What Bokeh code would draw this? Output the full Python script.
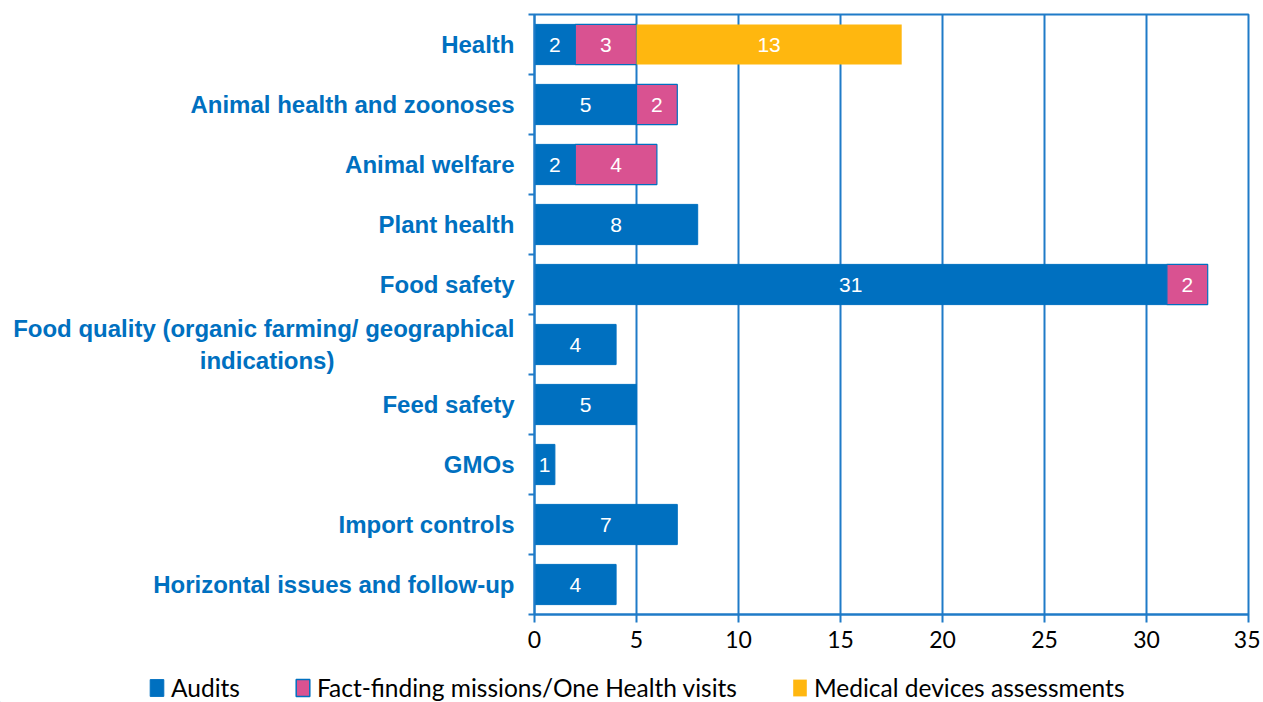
from bokeh.plotting import figure
from bokeh.layouts import column, row
from bokeh.models import (Range1d, FixedTicker, Legend, LegendItem, ColumnDataSource)
from bokeh.core.properties import value
from bokeh.embed import file_html
from bokeh.resources import INLINE

NB = "\u00a0"
categories = [
    "Health",
    "Animal health and zoonoses",
    "Animal welfare",
    "Plant health",
    "Food safety",
    "Food quality (organic farming/ geographical\nindications)" + NB * 27,
    "Feed safety",
    "GMOs",
    "Import controls",
    "Horizontal issues and follow-up",
]
audits = [2, 5, 2, 8, 31, 4, 5, 1, 7, 4]
fact_finding = [3, 2, 4, 0, 2, 0, 0, 0, 0, 0]
medical = [13, 0, 0, 0, 0, 0, 0, 0, 0, 0]
x_ticks = [0, 5, 10, 15, 20, 25, 30, 35]
series_names = ["Audits", "Fact-finding missions/One Health visits", "Medical devices assessments"]

BLUE = "#0070C0"
PINK = "#D95291"
YELLOW = "#FFB70F"
AXIS_BLUE = "#1F7BC8"

n = len(categories)
ys = list(range(n))

p = figure(width=1260, height=667, output_backend="svg", toolbar_location=None,
           x_range=Range1d(0, 35), y_range=Range1d(n - 0.5, -0.5),
           min_border_left=534, min_border_top=14, min_border_right=12, min_border_bottom=53)
p.background_fill_color = "white"
p.border_fill_color = "white"
p.outline_line_color = AXIS_BLUE
p.outline_line_width = 2

a_left = [0] * n
a_right = audits
f_left = audits
f_right = [a + f for a, f in zip(audits, fact_finding)]
m_left = f_right
m_right = [r + m for r, m in zip(f_right, medical)]

src = ColumnDataSource(dict(y=ys, a_left=a_left, a_right=a_right, f_left=f_left,
                            f_right=f_right, m_left=m_left, m_right=m_right,
                            f_line=[BLUE if v > 0 else None for v in fact_finding]))
H = 0.67
p.hbar(y="y", left="a_left", right="a_right", height=H, source=src,
       fill_color=BLUE, line_color=BLUE, line_width=1)
p.hbar(y="y", left="f_left", right="f_right", height=H, source=src,
       fill_color=PINK, line_color="f_line", line_width=1.2)
p.hbar(y="y", left="m_left", right="m_right", height=H, source=src,
       fill_color=YELLOW, line_color=None)

# value labels
lx, ly, lt = [], [], []
for i in range(n):
    for left, val in ((a_left[i], audits[i]), (f_left[i], fact_finding[i]), (m_left[i], medical[i])):
        if val > 0:
            lx.append(left + val / 2)
            ly.append(i)
            lt.append(str(val))
p.text(x=lx, y=ly, text=lt, text_color="white", text_align="center", text_baseline="middle",
       text_font=value("Liberation Sans"), text_font_size="21px")

# x axis
xa = p.xaxis[0]
xa.ticker = FixedTicker(ticks=x_ticks)
xa.axis_line_color = AXIS_BLUE
xa.axis_line_width = 2
xa.major_tick_line_color = AXIS_BLUE
xa.major_tick_line_width = 2
xa.major_tick_in = 0
xa.major_tick_out = 8
xa.minor_tick_line_color = None
xa.major_label_text_font = "Lato"
xa.major_label_text_font_size = "23px"
xa.major_label_text_color = "black"
xa.major_label_standoff = 8

# y axis
ya = p.yaxis[0]
ya.ticker = FixedTicker(ticks=ys, minor_ticks=[i - 0.5 for i in range(n + 1)])
ya.major_label_overrides = {i: c for i, c in enumerate(categories)}
ya.axis_line_color = AXIS_BLUE
ya.axis_line_width = 2
ya.major_tick_line_color = None
ya.major_tick_in = 0
ya.major_tick_out = 0
ya.minor_tick_line_color = AXIS_BLUE
ya.minor_tick_line_width = 2
ya.minor_tick_in = 0
ya.minor_tick_out = 6
ya.major_label_text_font = "Liberation Sans"
ya.major_label_text_font_style = "bold"
ya.major_label_text_font_size = "24px"
ya.major_label_text_color = BLUE
ya.major_label_standoff = 14

p.xgrid.ticker = FixedTicker(ticks=x_ticks)
p.xgrid.grid_line_color = AXIS_BLUE
p.xgrid.grid_line_width = 2
p.ygrid.grid_line_color = None

# legend in a separate strip figure
lf = figure(width=1260, height=35, output_backend="svg", toolbar_location=None,
            x_range=Range1d(0, 1), y_range=Range1d(0, 1),
            x_axis_type=None, y_axis_type=None,
            min_border_left=0, min_border_right=0, min_border_top=0, min_border_bottom=0)
lf.outline_line_color = None
lf.xgrid.visible = False
lf.ygrid.visible = False
dummy = ColumnDataSource(dict(y=[-5], left=[-5], right=[-4]))
la = lf.hbar(y="y", left="left", right="right", height=1, source=dummy,
             fill_color=BLUE, line_color=BLUE)
lfb = lf.hbar(y="y", left="left", right="right", height=1, source=dummy,
              fill_color=PINK, line_color=BLUE, line_width=1.5)
lm = lf.hbar(y="y", left="left", right="right", height=1, source=dummy,
             fill_color=YELLOW, line_color=None)
legend = Legend(items=[LegendItem(label=series_names[0], renderers=[la]),
                       LegendItem(label=series_names[1], renderers=[lfb]),
                       LegendItem(label=series_names[2], renderers=[lm])],
                orientation="horizontal", location=(148, 0),
                glyph_width=17, glyph_height=21, label_standoff=6, spacing=54,
                padding=0, margin=0, border_line_color=None, background_fill_alpha=0,
                label_text_font="Lato", label_text_font_size="24.5px", label_text_color="black")
lf.add_layout(legend, "center")

open("out.html", "w").write(file_html(column(p, row(lf)), INLINE))
